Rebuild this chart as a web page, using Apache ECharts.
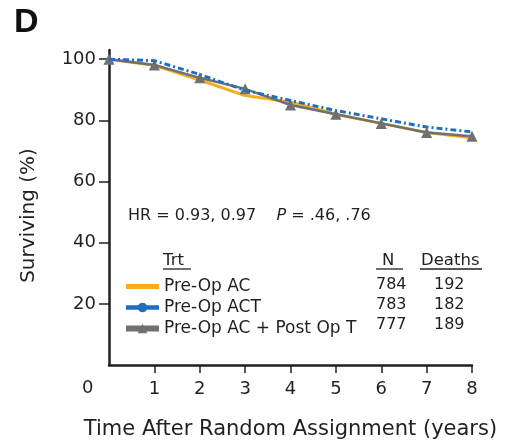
<!DOCTYPE html>
<html>
<head>
<meta charset="utf-8">
<script src="https://cdn.jsdelivr.net/npm/echarts@6/dist/echarts.min.js"></script>
<style>
  html, body { margin: 0; padding: 0; background: #fff; }
  #main { width: 508px; height: 442px; }
</style>
</head>
<body>
<div id="main"></div>
<script>
// years after random assignment
const years = [0, 1, 2, 3, 4, 5, 6, 7, 8];
// surviving (%)
const preOpAC = [100, 98, 93.2, 88.1, 86, 82, 79, 76, 74.3];
const preOpACT = [100, 99.5, 95, 89.8, 86.5, 83.2, 80.5, 77.8, 76.2];
const preOpACPostT = [100, 98.1, 93.9, 90.3, 85, 82, 79, 76, 74.8];

const seriesNames = ['Pre-Op AC', 'Pre-Op ACT', 'Pre-Op AC + Post Op T'];
const nValues = [784, 783, 777];
const deathValues = [192, 182, 189];
const xTicks = [1, 2, 3, 4, 5, 6, 7, 8];
const yTicks = [20, 40, 60, 80, 100];

const font = 'DejaVu Sans, sans-serif';
const axisColor = '#231f20';

const chart = echarts.init(document.getElementById('main'));

const pairs = arr => years.map((x, i) => [x, arr[i]]);

// legend table rows (N / Deaths columns)
const rowY = [286, 306, 326];
const tableText = [];
nValues.forEach((n, i) => {
  tableText.push({
    type: 'text', left: 376, top: rowY[i] - 9,
    style: { text: String(n), font: '16px ' + font, fill: axisColor }
  });
  tableText.push({
    type: 'text', left: 434, top: rowY[i] - 9,
    style: { text: String(deathValues[i]), font: '16px ' + font, fill: axisColor }
  });
});

const option = {
  animation: false,
  backgroundColor: '#fff',
  grid: { left: 109, right: 36, top: 50, bottom: 77, outerBoundsMode: 'none' },
  xAxis: {
    type: 'value',
    min: 0,
    max: 8,
    interval: 1,
    name: 'Time After Random Assignment (years)',
    nameLocation: 'middle',
    nameGap: 54,
    nameTextStyle: { fontFamily: font, fontSize: 21, color: axisColor },
    axisLine: { lineStyle: { color: axisColor, width: 2.5 } },
    axisTick: { length: 8, lineStyle: { color: axisColor, width: 1.5 }, customValues: xTicks },
    axisLabel: { margin: 15, fontFamily: font, fontSize: 18, color: axisColor, customValues: xTicks },
    splitLine: { show: false }
  },
  yAxis: {
    type: 'value',
    min: 0,
    max: 103,
    name: 'Surviving (%)',
    nameLocation: 'middle',
    nameGap: 70,
    nameTextStyle: { fontFamily: font, fontSize: 20, color: axisColor, padding: [0, 16, 0, 0] },
    axisLine: { show: true, lineStyle: { color: axisColor, width: 2.5 } },
    axisTick: { show: true, length: 10, lineStyle: { color: axisColor, width: 1.5 }, customValues: yTicks },
    axisLabel: { margin: 13, fontFamily: font, fontSize: 18, color: axisColor, customValues: yTicks },
    splitLine: { show: false }
  },
  legend: {
    orient: 'vertical',
    left: 123,
    top: 278,
    padding: 0,
    itemWidth: 33,
    itemHeight: 12,
    itemGap: 4,
    textStyle: { fontFamily: font, fontSize: 17, lineHeight: 16, color: axisColor },
    data: [
      { name: seriesNames[0], icon: 'path://M0,0H32V5H0Z', itemStyle: { color: '#f2b01e' } },
      { name: seriesNames[1], lineStyle: { width: 4.5, type: 'solid' } },
      { name: seriesNames[2], lineStyle: { width: 6 } }
    ]
  },
  graphic: [
    {
      type: 'text', left: 14, top: 6,
      style: { text: 'D', font: 'bold 34px Liberation Sans, Arial, sans-serif', fill: '#111' }
    },
    {
      type: 'text', left: 82, top: 379,
      style: { text: '0', font: '18px ' + font, fill: axisColor }
    },
    {
      type: 'text', left: 128, top: 208,
      style: {
        rich: {
          n: { font: '16px ' + font, fill: axisColor },
          i: { font: 'italic 16px ' + font, fill: axisColor }
        },
        text: '{n|HR = 0.93, 0.97    }{i|P}{n| = .46, .76}'
      }
    },
    { type: 'text', left: 163, top: 252, style: { text: 'Trt', font: '16.5px ' + font, fill: axisColor } },
    { type: 'text', left: 382, top: 252, style: { text: 'N', font: '16.5px ' + font, fill: axisColor } },
    { type: 'text', left: 421, top: 252, style: { text: 'Deaths', font: '16.5px ' + font, fill: axisColor } },
    { type: 'line', shape: { x1: 163, y1: 269, x2: 191, y2: 269 }, style: { stroke: axisColor, lineWidth: 1.3 } },
    { type: 'line', shape: { x1: 376, y1: 269, x2: 403, y2: 269 }, style: { stroke: axisColor, lineWidth: 1.3 } },
    { type: 'line', shape: { x1: 420, y1: 269, x2: 482, y2: 269 }, style: { stroke: axisColor, lineWidth: 1.3 } }
  ].concat(tableText),
  series: [
    {
      name: seriesNames[0],
      type: 'line',
      data: pairs(preOpAC),
      symbol: 'none',
      lineStyle: { color: '#f2b01e', width: 3 },
      itemStyle: { color: '#f2b01e' },
      z: 2
    },
    {
      name: seriesNames[1],
      type: 'line',
      data: pairs(preOpACT),
      symbol: 'circle',
      symbolSize: 9,
      showSymbol: false,
      lineStyle: { color: '#1f6fc0', width: 3, type: [6, 3, 2, 3] },
      itemStyle: { color: '#1f6fc0' },
      z: 4
    },
    {
      name: seriesNames[2],
      type: 'line',
      data: pairs(preOpACPostT),
      symbol: 'triangle',
      symbolSize: 11,
      lineStyle: { color: '#707070', width: 2.5 },
      itemStyle: { color: '#707070' },
      z: 3
    }
  ]
};

chart.setOption(option);
</script>
</body>
</html>
